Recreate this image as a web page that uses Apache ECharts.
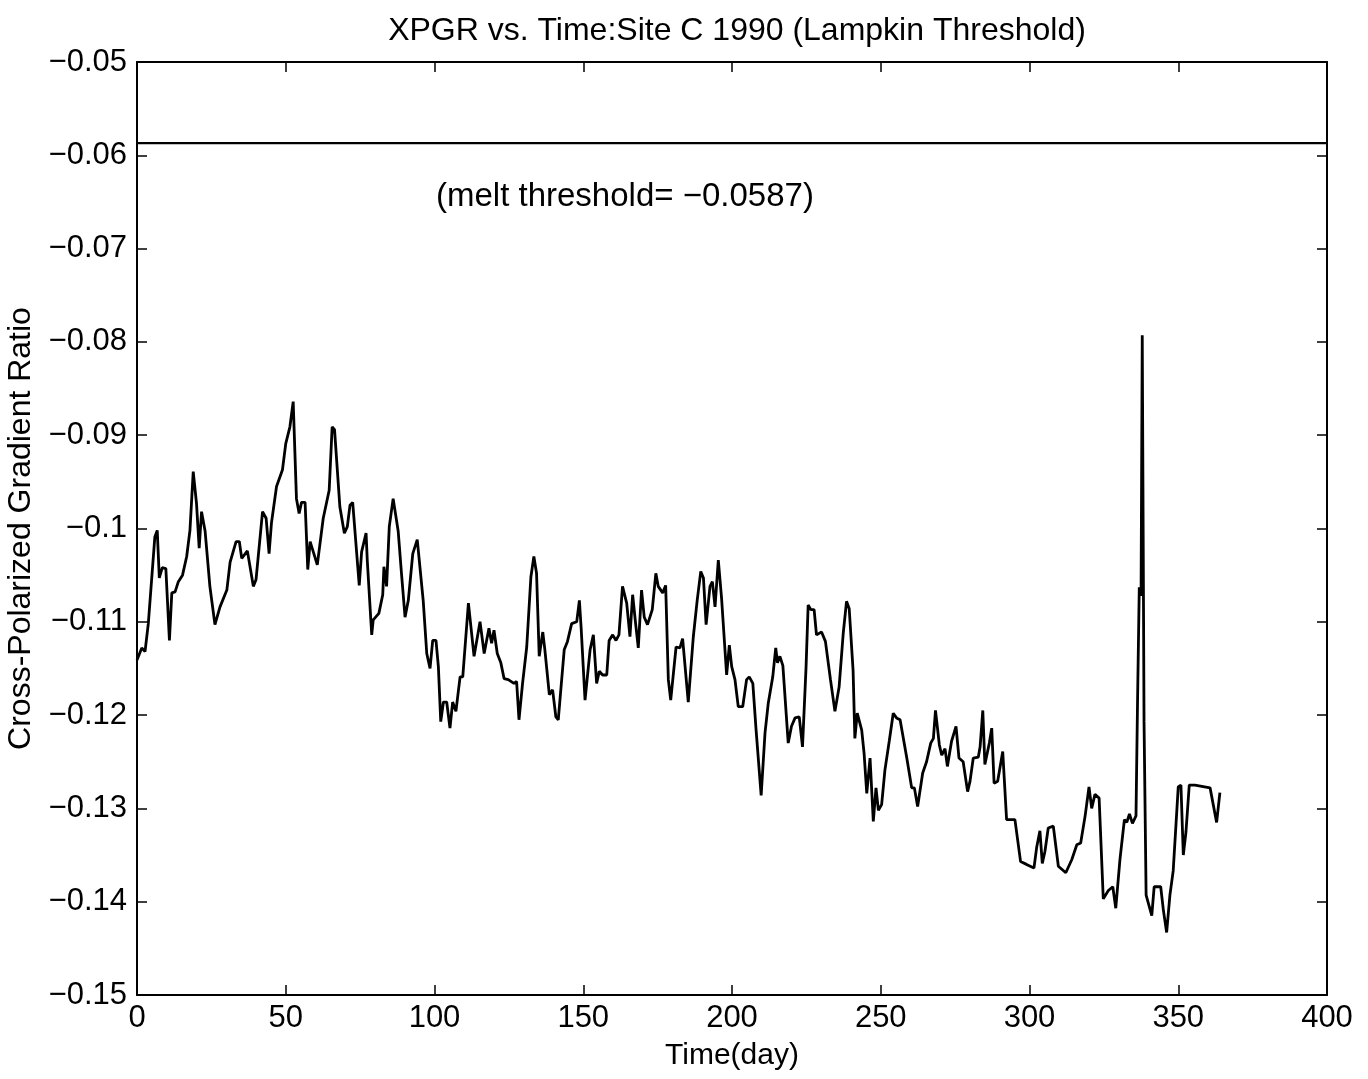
<!DOCTYPE html>
<html>
<head>
<meta charset="utf-8">
<script src="https://cdn.jsdelivr.net/npm/echarts@6/dist/echarts.min.js"></script>
<style>
html,body{margin:0;padding:0;background:#fff;}
#chart{width:1368px;height:1079px;}
</style>
</head>
<body>
<div id="chart"></div>
<script>
const titleText = 'XPGR vs. Time:Site C 1990 (Lampkin Threshold)';
const xName = 'Time(day)';
const yName = 'Cross-Polarized Gradient Ratio';
const thresholdValue = -0.0587;
const thresholdLabel = '(melt threshold= \u22120.0587)';
const xTicks = [0, 50, 100, 150, 200, 250, 300, 350, 400];
const yTicks = [-0.15, -0.14, -0.13, -0.12, -0.11, -0.1, -0.09, -0.08, -0.07, -0.06, -0.05];

const days = [
  0, 1.6, 2.7, 3.8, 6, 6.8, 7.5, 8.5, 9.7, 10.9,
  11.7, 12.8, 13.9, 15.3, 16.7, 17.8, 18.9, 20, 20.9, 21.7,
  22.9, 24.5, 26.2, 27.9, 30.2, 31.3, 33.3, 34.4, 35.2, 37.1,
  39.1, 40, 42.2, 43.4, 44.4, 45.2, 46.9, 48.9, 50, 51.4,
  52.5, 53.6, 54.5, 55.3, 56.5, 57.4, 58.2, 60.6, 62.6, 64.6,
  65.6, 66.4, 68.2, 69.7, 70.7, 71.6, 72.5, 74.7, 75.5, 77,
  77.4, 78.9, 79.4, 81.3, 82.6, 83, 83.9, 84.8, 86.1, 87.8,
  88.9, 90.1, 91.2, 92.7, 94.2, 96.2, 97.4, 98.5, 99.4, 100.5,
  101.3, 102.1, 103, 104.1, 105.2, 106.1, 107.2, 108.6, 109.5, 111.4,
  113.3, 115.3, 116.7, 117.3, 118.3, 119.2, 120, 121.1, 122.3, 123.4,
  124.8, 126.7, 127.6, 128.4, 129.6, 131, 132.4, 133.4, 134.3, 135.2,
  136.4, 137.1, 138.6, 139.7, 140.8, 141.6, 143.6, 144.7, 146.1, 147.8,
  148.7, 149.3, 150.6, 152.3, 153.4, 154.5, 155.4, 156.5, 157.9, 158.7,
  159.9, 161, 162, 163.2, 164.6, 165.7, 166.6, 167.6, 168.5, 169.6,
  170.5, 171.6, 173.2, 174.4, 175.2, 176.7, 177.7, 178.6, 179.4, 181.2,
  182.5, 183.4, 185.3, 187, 188.3, 189.5, 190.4, 191.3, 192.6, 193.4,
  194.3, 195.4, 196.5, 198.2, 199.1, 199.9, 201, 202.1, 203.6, 204.9,
  205.8, 207, 208.1, 209.8, 211.1, 212.2, 213.7, 214.7, 215.3, 216.1,
  217.1, 218.9, 220, 221.2, 222.6, 223.7, 224.9, 225.6, 226.5, 227.6,
  228.4, 230.1, 231.4, 233.1, 234.6, 236, 237.4, 238.5, 239.4, 240.7,
  241.3, 242.1, 243.6, 244.4, 245.3, 246.4, 247.5, 248.4, 249.2, 250.3,
  251.4, 252.9, 254.2, 255.3, 256.5, 258.7, 260.4, 261.3, 262.4, 264.1,
  265.4, 266.8, 267.7, 268.4, 269.7, 270.5, 271.6, 272.4, 273.8, 275.3,
  276.3, 277.7, 279.2, 280, 281.1, 282.8, 283.4, 284.3, 285, 286.5,
  287.3, 288.1, 289.3, 291, 291.4, 292.3, 295.1, 297, 299, 301.5,
  302.4, 303.5, 304.3, 305.2, 306.3, 308, 309.7, 312.2, 314.2, 315.9,
  317.2, 318.7, 320, 320.9, 322, 323.4, 324.8, 326.5, 328, 329,
  330.4, 331.9, 332.7, 333.6, 334.6, 335.8, 336.3, 336.9, 337.5, 337.9,
  338.5, 339.2, 341.1, 341.9, 344.1, 345, 346.1, 347.2, 348.3, 350,
  350.9, 351.7, 352.6, 353.7, 355.6, 360.7, 362.9, 364
];

const xpgr = [
  -0.1141, -0.1128, -0.1132, -0.1102, -0.1009, -0.1002, -0.1053, -0.1042, -0.1043, -0.112,
  -0.1069, -0.1068, -0.1057, -0.105, -0.103, -0.1002, -0.0939, -0.0973, -0.1021, -0.0982,
  -0.1003, -0.1062, -0.1103, -0.1084, -0.1066, -0.1036, -0.1014, -0.1014, -0.1032, -0.1024,
  -0.1062, -0.1055, -0.0982, -0.0989, -0.1027, -0.0994, -0.0955, -0.0937, -0.0909, -0.0891,
  -0.0864, -0.0968, -0.0984, -0.0972, -0.0972, -0.1044, -0.1014, -0.1039, -0.0989, -0.0959,
  -0.0891, -0.0894, -0.0977, -0.1005, -0.0998, -0.0975, -0.0972, -0.1061, -0.1025, -0.1005,
  -0.1034, -0.1114, -0.1098, -0.1091, -0.1071, -0.1041, -0.1062, -0.0998, -0.0968, -0.1003,
  -0.1048, -0.1095, -0.1077, -0.1027, -0.1012, -0.1077, -0.1134, -0.115, -0.112, -0.112,
  -0.1148, -0.1207, -0.1186, -0.1186, -0.1214, -0.1186, -0.1196, -0.1159, -0.1159, -0.108,
  -0.1137, -0.11, -0.1134, -0.1136, -0.1107, -0.1123, -0.1109, -0.1134, -0.1144, -0.1161,
  -0.1162, -0.1166, -0.1164, -0.1205, -0.1166, -0.1127, -0.1052, -0.103, -0.1048, -0.1137,
  -0.1111, -0.113, -0.1178, -0.1173, -0.1202, -0.1205, -0.113, -0.1121, -0.1102, -0.11,
  -0.1077, -0.1107, -0.1184, -0.113, -0.1114, -0.1166, -0.1153, -0.1157, -0.1157, -0.112,
  -0.1114, -0.112, -0.1114, -0.1062, -0.108, -0.1116, -0.1071, -0.1102, -0.1128, -0.1066,
  -0.1095, -0.1103, -0.1087, -0.1048, -0.1062, -0.1069, -0.1061, -0.1162, -0.1184, -0.1127,
  -0.1128, -0.1118, -0.1186, -0.1116, -0.1077, -0.1046, -0.1053, -0.1103, -0.1062, -0.1057,
  -0.1084, -0.1034, -0.1075, -0.1157, -0.1125, -0.1148, -0.1162, -0.1191, -0.1191, -0.1162,
  -0.1159, -0.1166, -0.1216, -0.1286, -0.1219, -0.1187, -0.1159, -0.1128, -0.1144, -0.1137,
  -0.1147, -0.123, -0.1212, -0.1203, -0.1202, -0.1234, -0.1148, -0.1082, -0.1087, -0.1087,
  -0.1114, -0.1111, -0.1121, -0.1162, -0.1196, -0.117, -0.1112, -0.1078, -0.1086, -0.1152,
  -0.1225, -0.1198, -0.1216, -0.1241, -0.1284, -0.1246, -0.1314, -0.1278, -0.1302, -0.1296,
  -0.1259, -0.1227, -0.1198, -0.1203, -0.1205, -0.1245, -0.1278, -0.1278, -0.1298, -0.1262,
  -0.125, -0.123, -0.1225, -0.1195, -0.1232, -0.1243, -0.1236, -0.1255, -0.1228, -0.1212,
  -0.1246, -0.125, -0.1282, -0.1271, -0.1246, -0.1245, -0.1234, -0.1195, -0.1253, -0.123,
  -0.1214, -0.1273, -0.1271, -0.1239, -0.1241, -0.1312, -0.1312, -0.1357, -0.136, -0.1364,
  -0.1342, -0.1324, -0.1359, -0.1346, -0.1321, -0.1319, -0.1362, -0.1369, -0.1355, -0.1339,
  -0.1337, -0.1308, -0.1277, -0.13, -0.1285, -0.1289, -0.1397, -0.1388, -0.1384, -0.1407,
  -0.1355, -0.1312, -0.1315, -0.1306, -0.1316, -0.1308, -0.119, -0.1063, -0.1072, -0.0793,
  -0.1207, -0.1393, -0.1415, -0.1384, -0.1384, -0.1409, -0.1433, -0.1393, -0.1367, -0.1277,
  -0.1275, -0.135, -0.1325, -0.1275, -0.1275, -0.1278, -0.1315, -0.1283
];

const FONT = '"Liberation Sans", Arial, Helvetica, sans-serif';
const lineData = days.map((d, i) => [d, xpgr[i]]);
const thresholdData = [[xTicks[0], thresholdValue], [xTicks[xTicks.length - 1], thresholdValue]];
const fmtY = v => String(Number(v.toFixed(2))).replace('-', '\u2212');

const chart = echarts.init(document.getElementById('chart'), null, {renderer: 'canvas'});
const axisCommonX = {
  type: 'value', min: xTicks[0], max: xTicks[xTicks.length - 1], interval: 50,
  axisLine: {show: true, onZero: false, lineStyle: {color: '#000', width: 2}},
  axisTick: {show: true, inside: true, length: 10, lineStyle: {color: '#000', width: 1.5}},
  splitLine: {show: false}
};
const axisCommonY = {
  type: 'value', min: yTicks[0], max: yTicks[yTicks.length - 1], interval: 0.01,
  axisLine: {show: true, onZero: false, lineStyle: {color: '#000', width: 2}},
  axisTick: {show: true, inside: true, length: 10, lineStyle: {color: '#000', width: 1.5}},
  splitLine: {show: false}
};

chart.setOption({
  animation: false,
  backgroundColor: '#fff',
  title: {
    text: titleText, left: 732, top: 10, textAlign: 'center',
    textStyle: {fontFamily: FONT, fontSize: 32, fontWeight: 'normal', color: '#000'}
  },
  grid: {left: 137, right: 41, top: 62, bottom: 84, containLabel: false, outerBoundsMode: 'none'},
  xAxis: [
    Object.assign({}, axisCommonX, {
      position: 'bottom',
      name: xName, nameLocation: 'middle', nameGap: 46,
      nameTextStyle: {fontFamily: FONT, fontSize: 30, color: '#000'},
      axisLabel: {show: true, margin: 8, fontFamily: FONT, fontSize: 31, color: '#000'}
    }),
    Object.assign({}, axisCommonX, {position: 'top', axisLabel: {show: false}})
  ],
  yAxis: [
    Object.assign({}, axisCommonY, {
      position: 'left',
      name: yName, nameLocation: 'middle', nameGap: 98, nameRotate: 90,
      nameTextStyle: {fontFamily: FONT, fontSize: 32, color: '#000'},
      axisLabel: {show: true, margin: 10, fontFamily: FONT, fontSize: 31, color: '#000', formatter: fmtY}
    }),
    Object.assign({}, axisCommonY, {position: 'right', axisLabel: {show: false}})
  ],
  graphic: [{
    type: 'text', left: 436, top: 180,
    style: {text: thresholdLabel, font: '33px ' + FONT, fill: '#000'}
  }],
  series: [{
    type: 'line',
    data: lineData,
    xAxisIndex: 0, yAxisIndex: 0,
    showSymbol: false, symbol: 'none',
    lineStyle: {color: '#000', width: 2.8},
    z: 3
  }, {
    type: 'line',
    data: thresholdData,
    xAxisIndex: 0, yAxisIndex: 0,
    showSymbol: false, symbol: 'none',
    lineStyle: {color: '#000', width: 2.2},
    z: 2
  }]
});
</script>
</body>
</html>
